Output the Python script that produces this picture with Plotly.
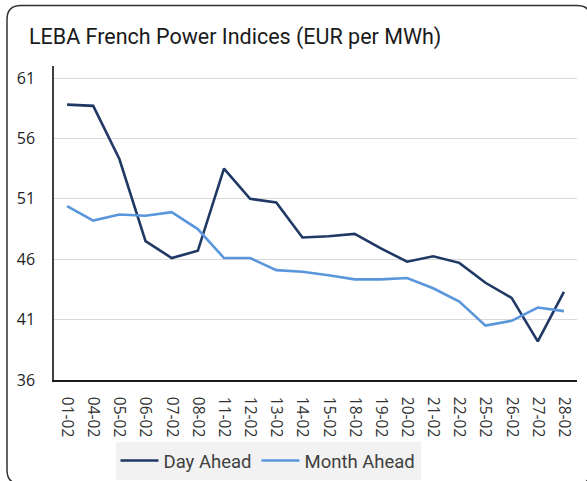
import plotly.graph_objects as go

dates = ["01-02", "04-02", "05-02", "06-02", "07-02", "08-02", "11-02", "12-02", "13-02", "14-02",
         "15-02", "18-02", "19-02", "20-02", "21-02", "22-02", "25-02", "26-02", "27-02", "28-02"]
day_ahead = [58.8, 58.7, 54.3, 47.5, 46.1, 46.7, 53.5, 51.0, 50.7, 47.8,
             47.9, 48.1, 46.9, 45.8, 46.25, 45.7, 44.05, 42.8, 39.2, 43.3]
month_ahead = [50.4, 49.2, 49.7, 49.6, 49.9, 48.5, 46.1, 46.1, 45.1, 44.97,
               44.67, 44.33, 44.33, 44.45, 43.6, 42.5, 40.5, 40.9, 42.0, 41.7]
y_ticks = [36, 41, 46, 51, 56, 61]

W, H = 587, 481
L, R, T, B = 54, 10, 66, 101
pw, ph = W - L - R, H - T - B

def px(x):
    return (x - L) / pw

def py(y):
    return (H - B - y) / ph

fig = go.Figure()
fig.add_trace(go.Scatter(x=dates, y=day_ahead, mode="lines", name="Day Ahead",
                         line=dict(color="#1f3864", width=2.6)))
fig.add_trace(go.Scatter(x=dates, y=month_ahead, mode="lines", name="Month Ahead",
                         line=dict(color="#5a96dc", width=2.6)))

# rounded frame around the chart
x0, y0, x1, y1, r = 7, 5.5, 591, 484, 14
path = (f"M {px(x0+r)},{py(y0)} L {px(x1-r)},{py(y0)} "
        f"Q {px(x1)},{py(y0)} {px(x1)},{py(y0+r)} L {px(x1)},{py(y1-r)} "
        f"Q {px(x1)},{py(y1)} {px(x1-r)},{py(y1)} L {px(x0+r)},{py(y1)} "
        f"Q {px(x0)},{py(y1)} {px(x0)},{py(y1-r)} L {px(x0)},{py(y0+r)} "
        f"Q {px(x0)},{py(y0)} {px(x0+r)},{py(y0)} Z")
fig.add_shape(type="path", path=path, xref="paper", yref="paper",
              line=dict(color="#333333", width=1.5), layer="below")

fig.update_layout(
    width=W, height=H,
    margin=dict(l=L, r=R, t=T, b=B, autoexpand=False),
    paper_bgcolor="white", plot_bgcolor="white",
    title=dict(text="LEBA French Power Indices (EUR per MWh)", x=29 / W, xanchor="left",
               y=1 - 36 / H, yanchor="middle",
               font=dict(family="Roboto", size=21.5, color="#1a1a1a")),
    font=dict(family="Open Sans", color="#333333"),
    showlegend=True,
    legend=dict(orientation="h", x=px(268), xanchor="center", y=py(442), yanchor="top",
                bgcolor="#f2f2f2", font=dict(family="Roboto", size=18.5, color="#404040"),
                itemwidth=38, tracegroupgap=0),
)
fig.update_xaxes(
    type="category", tickangle=90, showgrid=False, showline=True,
    linecolor="#1a1a1a", linewidth=1.5, ticks="", automargin=False,
    tickfont=dict(family="Open Sans", size=15.5, color="#333333"), ticklabelstandoff=12,
    range=[-0.5, len(dates) - 0.5],
)
fig.update_yaxes(
    range=[36, 62], tickvals=y_ticks, showgrid=True, gridcolor="#d9d9d9", gridwidth=1.2,
    showline=True, linecolor="#404040", linewidth=1.5, zeroline=False, ticks="", automargin=False,
    tickfont=dict(family="Open Sans", size=16, color="#222222"), ticklabelstandoff=14,
)

fig.write_html("out.html", config={"displayModeBar": False},
               post_script="document.body.style.margin='0';document.body.style.overflow='hidden';")
